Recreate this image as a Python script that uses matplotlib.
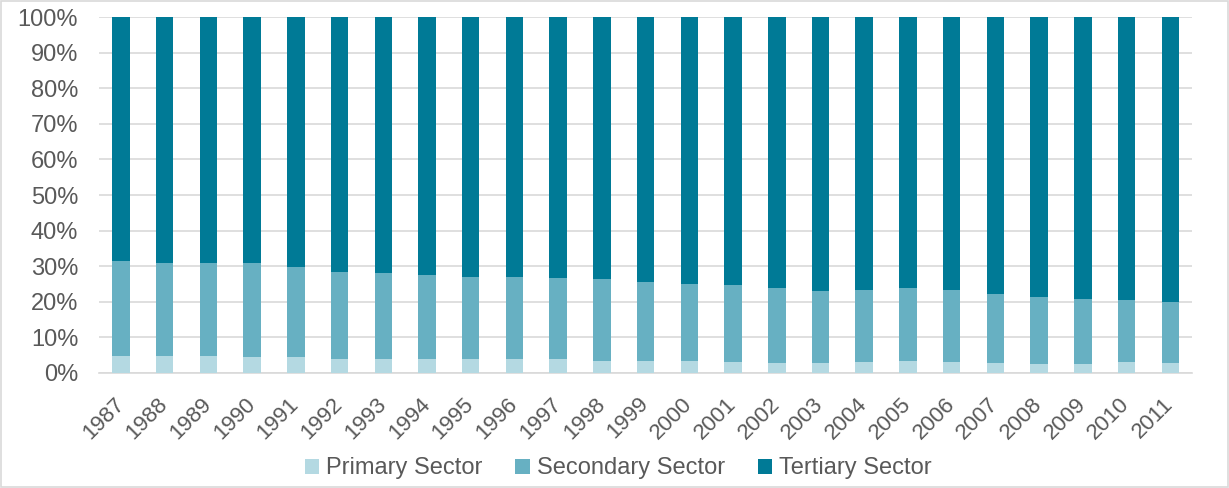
import numpy as np
import matplotlib.pyplot as plt

plt.rcParams["font.family"] = ["Liberation Sans", "DejaVu Sans"]

years = [str(y) for y in range(1987, 2012)]
primary = [4.9, 4.7, 4.7, 4.6, 4.6, 3.8, 3.9, 3.9, 3.8, 3.8, 3.8, 3.5, 3.3,
           3.3, 3.1, 2.9, 2.9, 3.2, 3.5, 3.2, 2.9, 2.6, 2.6, 3.1, 2.7]
# cumulative top of the secondary segment
prim_plus_sec = [31.6, 30.8, 30.9, 30.8, 29.9, 28.5, 28.2, 27.4, 27.1, 26.9, 26.6, 26.3, 25.6,
                 24.9, 24.7, 23.9, 22.9, 23.4, 24.0, 23.4, 22.2, 21.4, 20.8, 20.6, 19.9]

primary = np.array(primary) / 100
secondary = np.array(prim_plus_sec) / 100 - primary
tertiary = 1 - primary - secondary

text_col = "#595959"
colors = ["#b4d9e2", "#67b0c2", "#007a96"]

fig = plt.figure(figsize=(12.29, 4.88), dpi=100)
ax = fig.add_axes([0.0806, 0.2357, 0.8894, 0.7293])

x = np.arange(len(years))
w = 0.40
ax.bar(x, primary, w, color=colors[0], label="Primary Sector", zorder=3)
ax.bar(x, secondary, w, bottom=primary, color=colors[1], label="Secondary Sector", zorder=3)
ax.bar(x, tertiary, w, bottom=primary + secondary, color=colors[2], label="Tertiary Sector", zorder=3)

ax.set_xlim(-0.5, len(years) - 0.5)
ax.set_ylim(0, 1)
ax.set_yticks(np.arange(0, 1.01, 0.1))
ax.set_yticklabels([f"{int(round(v * 100))}%" for v in np.arange(0, 1.01, 0.1)])
ax.set_xticks(x)
ax.set_xticklabels(years, rotation=45, ha="right", va="center", rotation_mode="anchor")
ax.tick_params(axis="both", length=0, colors=text_col)
ax.tick_params(axis="y", labelsize=17, pad=15)
ax.tick_params(axis="x", labelsize=16, pad=20)
ax.grid(axis="y", color="#d9d9d9", linewidth=1.2, zorder=0)
for s in ["top", "right", "left"]:
    ax.spines[s].set_visible(False)
ax.spines["bottom"].set_color("#d9d9d9")
ax.spines["bottom"].set_linewidth(1.2)

leg = fig.legend(loc="center", bbox_to_anchor=(0.503, 0.04), ncol=3, frameon=False,
                 fontsize=17, handlelength=0.6, handleheight=0.6, handletextpad=0.3,
                 columnspacing=1.4)
for t in leg.get_texts():
    t.set_color(text_col)

fig.patches.append(plt.Rectangle((0.001, 0.002), 0.998, 0.996, transform=fig.transFigure,
                                 fill=False, edgecolor="#d9d9d9", linewidth=1.2))

fig.savefig("out.png", dpi=100)
